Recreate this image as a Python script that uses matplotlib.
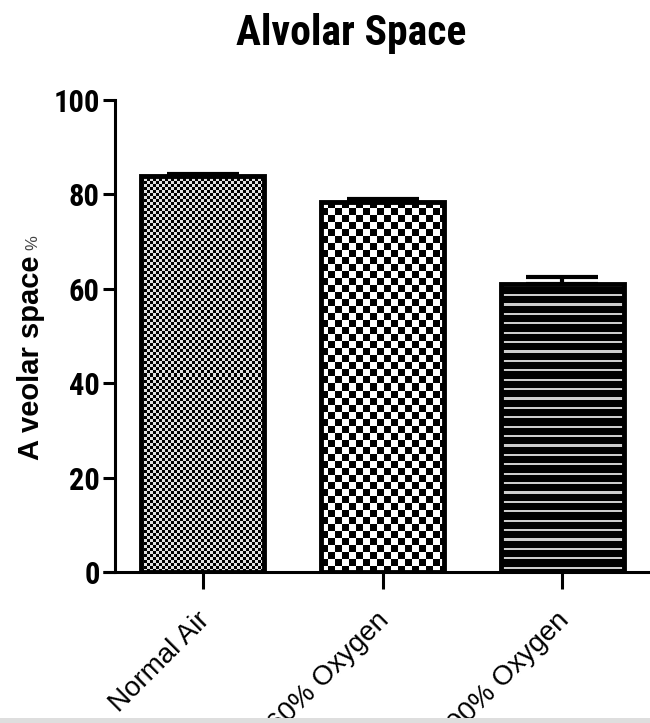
import numpy as np
import matplotlib
matplotlib.use("Agg")
import matplotlib.pyplot as plt
from matplotlib.patches import Rectangle
from matplotlib.transforms import ScaledTranslation

# data
groups = ["Normal Air", "60% Oxygen", "100% Oxygen"]
means = [83.9, 78.4, 61.0]
sems = [0.5, 0.6, 1.5]
yticks = [0, 20, 40, 60, 80, 100]

narrow = ["Roboto Condensed", "Barlow Semi Condensed", "DejaVu Sans"]
arial = ["Liberation Sans", "DejaVu Sans"]

W, H = 650, 723
fig = plt.figure(figsize=(W / 100, H / 100), dpi=100)
ax = fig.add_axes([115 / W, 1 - 572 / H, 1 - 115 / W, (572 - 100) / H])

x = np.arange(len(groups))
bars = ax.bar(x, means, width=0.685, facecolor="none", edgecolor="black",
              linewidth=3.5, zorder=3)
ax.errorbar(x, means, yerr=[np.zeros(len(sems)), sems], fmt="none",
            ecolor="black", elinewidth=3, capsize=26, capthick=3, zorder=4)

ax.set_xlim(-0.49, 2.49)
ax.set_ylim(0, 100)


# textures drawn in pixel units, clipped to each bar
def texture(kind, w, h):
    yy, xx = np.mgrid[0:h, 0:w]
    if kind == "fine":
        a = np.where(((xx // 3) + (yy // 3)) % 2 == 0, 0.88, 0.0)
    elif kind == "check":
        a = np.where(((xx // 7) + (yy // 7)) % 2 == 0, 1.0, 0.0)
    else:
        a = np.where((yy % 9.4) < 2.3, 0.8, 0.0)
    return a


fig.canvas.draw()
kinds = ["fine", "check", "stripe"]
for b, k in zip(bars, kinds):
    bb = b.get_window_extent()
    w, h = int(round(bb.width)), int(round(bb.height))
    img = texture(k, w, h)
    x0, y0 = b.get_x(), b.get_y()
    im = ax.imshow(img, cmap="gray", vmin=0, vmax=1, interpolation="nearest",
                   extent=[x0, x0 + b.get_width(), y0, y0 + b.get_height()],
                   aspect="auto", zorder=2)
    im.set_clip_path(b)

ax.set_xlim(-0.49, 2.49)
ax.set_ylim(0, 100)

for s in ["top", "right"]:
    ax.spines[s].set_visible(False)
ax.spines["left"].set_linewidth(2.2)
ax.spines["bottom"].set_linewidth(2.2)
ax.spines["bottom"].set_bounds(-0.49 - 12 / 179.5, 2.49)
ax.spines["bottom"].set_capstyle("butt")

ax.set_yticks(yticks)
ax.set_yticklabels([str(v) for v in yticks], family=narrow,
                   fontsize=22, fontweight="bold")
ax.tick_params(axis="y", length=9, width=2.2, pad=2)
ax.set_xticks(x)
ax.set_xticklabels(groups, rotation=45, ha="right", rotation_mode="anchor",
                   family=arial, fontsize=20)
ax.tick_params(axis="x", length=12, width=2.2, pad=20)
shift = ScaledTranslation(2 / 72, 0, fig.dpi_scale_trans)
for t in ax.get_xticklabels():
    t.set_va("center")
    t.set_transform(t.get_transform() + shift)

fig.text(351 / W, 1 - 33 / H, "Alvolar Space", ha="center", va="center",
         family=narrow, fontsize=30, fontweight="bold")
fig.text(31 / W, 1 - 358 / H, "A veolar space", rotation=90, ha="center",
         va="center", family=arial, fontsize=21, fontweight="bold")
fig.text(33 / W, 1 - 243 / H, "%", rotation=90, ha="center", va="center",
         family=arial, fontsize=12, color="#444444")

# grey strip along the bottom edge
fig.add_artist(Rectangle((0, 0), 1, 5 / H, transform=fig.transFigure,
                         facecolor="#dedede", edgecolor="none", zorder=10))

fig.savefig("out.png", dpi=100)
